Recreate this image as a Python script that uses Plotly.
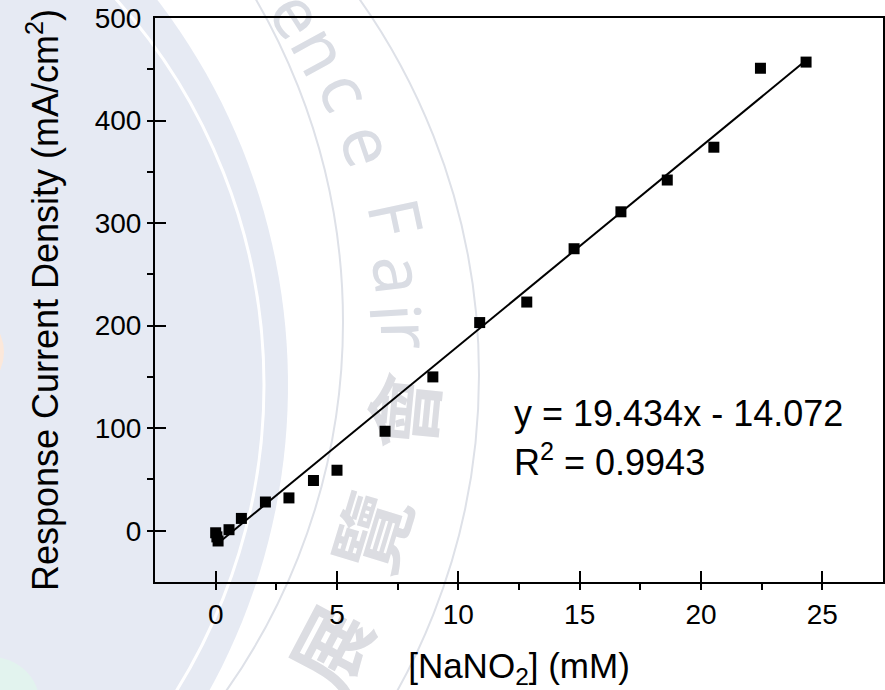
import numpy as np
import plotly.graph_objects as go

# ---- data -------------------------------------------------------------
conc_mM = [0.0, 0.05, 0.1, 0.55, 1.06, 2.05, 3.02, 4.03, 5.0, 6.98, 8.95,
           10.88, 12.82, 14.77, 16.70, 18.61, 20.53, 22.45, 24.33]
current = [-2, -6, -10, 1, 12, 28, 32, 49, 59, 97, 150,
           203, 223, 275, 311, 342, 374, 451, 457]

fit_slope = 19.434
fit_intercept = -14.072
fit_r2 = 0.9943

x_ticks = [0, 5, 10, 15, 20, 25]
y_ticks = [0, 100, 200, 300, 400, 500]

# ---- canvas geometry ---------------------------------------------------
W, H = 885, 690
ML, MR, MT, MB = 155, 2, 18, 108
PW, PH = W - ML - MR, H - MT - MB

FONT = "Arial, 'Liberation Sans', sans-serif"


def fx(xp):
    return (xp - ML) / PW


def fy(yp):
    return 1 - (yp - MT) / PH


def disk(cx, cy, r, fill=None, line=None, lw=0):
    return dict(type="circle", xref="paper", yref="paper", layer="below",
                x0=fx(cx - r), x1=fx(cx + r), y0=fy(cy + r), y1=fy(cy - r),
                fillcolor=fill if fill else "rgba(0,0,0,0)",
                line=dict(color=line if line else "rgba(0,0,0,0)", width=lw))


def half_disk_path(cx, cy, r, fill):
    # right half of a circle, closed along its vertical diameter
    th = np.linspace(-np.pi / 2, np.pi / 2, 120)
    pts = [(fx(cx + r * np.cos(t)), fy(cy + r * np.sin(t))) for t in th]
    d = "M " + " L ".join(f"{a:.5f},{b:.5f}" for a, b in pts) + " Z"
    return dict(type="path", xref="paper", yref="paper", layer="below",
                path=d, fillcolor=fill, line=dict(width=0))


def ring_glyph(ch, xp, yp, angle, size, family, color, weight="normal"):
    return dict(type="rect", xref="paper", yref="paper", layer="below",
                x0=fx(xp - 5), x1=fx(xp + 5), y0=fy(yp + 5), y1=fy(yp - 5),
                line=dict(width=0), fillcolor="rgba(0,0,0,0)",
                label=dict(text=ch, textangle=angle, textposition="middle center",
                           font=dict(size=size, family=family, color=color,
                                     weight=weight)))


# background emblem: tinted disk, rings and lettering
shapes = [
    half_disk_path(-345, 385, 633, "#E6EAF3"),
    disk(-313, 385, 577, line="white", lw=3),
    disk(-297, 322, 640, line="#DEE1E8", lw=2),
    disk(-171, 375, 650, line="#DEE1E8", lw=2),
    disk(-8, 705, 48, fill="#E2F3EE"),
    disk(-40, 352, 44, fill="#FCE8DA"),
]

ring_cx, ring_cy = -230, 350
latin = [("e", 295, 16), ("n", 318, 52), ("c", 343, 92), ("e", 365, 146),
         ("F", 392, 218), ("a", 396, 275), ("i", 392, 313), ("r", 403, 335)]
for ch, xp, yp in latin:
    th = np.degrees(np.arctan2(yp - ring_cy, xp - ring_cx))
    shapes.append(ring_glyph(ch, xp, yp, th + 90, 70,
                             "'Noto Sans', sans-serif", "#DADDE4"))
cjk = [("會", 412, 412), ("覽", 380, 535), ("展", 338, 651)]
for ch, xp, yp in cjk:
    th = np.degrees(np.arctan2(yp - ring_cy, xp - ring_cx))
    shapes.append(ring_glyph(ch, xp, yp, th - 90, 78,
                             "'Noto Sans CJK TC', sans-serif", "#DCDDE2",
                             weight="bold"))

# ---- traces ------------------------------------------------------------
x_fit = np.array([min(conc_mM), max(conc_mM)])
y_fit = fit_slope * x_fit + fit_intercept

fig = go.Figure()
fig.add_trace(go.Scatter(x=x_fit, y=y_fit, mode="lines",
                         line=dict(color="black", width=2), showlegend=False))
fig.add_trace(go.Scatter(x=conc_mM, y=current, mode="markers",
                         marker=dict(symbol="square", size=11, color="black",
                                     line=dict(width=0)),
                         showlegend=False))

eq_text = f"y = {fit_slope:.3f}x - {abs(fit_intercept):.3f}"
r2_text = f"R<sup>2</sup> = {fit_r2:.4f}"
fig.add_annotation(x=12.2, y=114, xref="x", yref="y", text=eq_text,
                   showarrow=False, xanchor="left", yanchor="middle",
                   font=dict(size=36, family=FONT, color="black"))
fig.add_annotation(x=12.2, y=69, xref="x", yref="y", text=r2_text,
                   showarrow=False, xanchor="left", yanchor="middle",
                   font=dict(size=36, family=FONT, color="black"))

axis_common = dict(showline=True, linecolor="black", linewidth=2, mirror=True,
                   showgrid=False, zeroline=False, ticks="inside", ticklen=11,
                   tickwidth=2, tickcolor="black", ticklabelstandoff=6,
                   tickfont=dict(size=28, family=FONT, color="black"))

fig.update_xaxes(range=[-2.5, 27.5], tickvals=x_ticks,
                 minor=dict(ticks="outside", ticklen=6, tickwidth=2,
                            tickcolor="black", dtick=2.5, tick0=0),
                 title=dict(text="[NaNO<sub>2</sub>] (mM)", standoff=26,
                            font=dict(size=35, family=FONT, color="black")),
                 **axis_common)
fig.update_yaxes(range=[-50, 500], tickvals=y_ticks,
                 minor=dict(ticks="outside", ticklen=6, tickwidth=2,
                            tickcolor="black", dtick=50, tick0=0),
                 title=dict(text="Response Current Density (mA/cm<sup>2</sup>)",
                            standoff=25,
                            font=dict(size=36, family=FONT, color="black")),
                 **axis_common)

fig.update_layout(width=W, height=H,
                  margin=dict(l=ML, r=MR, t=MT, b=MB, autoexpand=False),
                  paper_bgcolor="white", plot_bgcolor="rgba(0,0,0,0)",
                  shapes=shapes)

fig.write_html("out.html")
